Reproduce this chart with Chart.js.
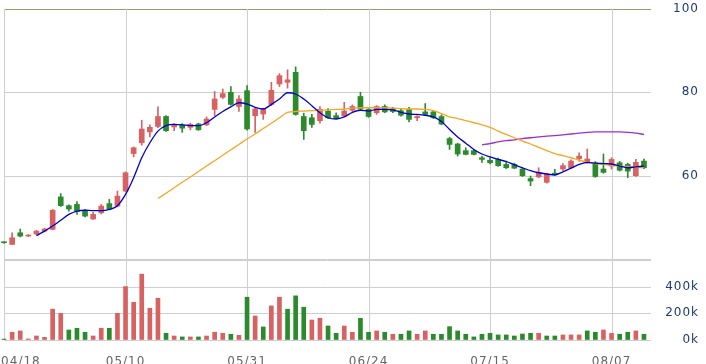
<!DOCTYPE html>
<html lang="zh-Hant">
<head>
<meta charset="UTF-8">
<title>K線圖</title>
<script src="https://cdn.jsdelivr.net/npm/chart.js@4"></script>
<style>
  body { margin: 0; background: #fff; }
  #wrap { position: relative; width: 706px; height: 364px; }
  #price { position: absolute; left: 0; top: 0; }
  #volume { position: absolute; left: 0; top: 260px; }
</style>
</head>
<body>
<div id="wrap">
  <canvas id="price" width="706" height="260"></canvas>
  <canvas id="volume" width="706" height="104"></canvas>
</div>
<script>
// trading days 2024/04/18 - 2024/08/13
const dates = ['04/18','04/19','04/22','04/23','04/24','04/25','04/26','04/29','04/30','05/02',
  '05/03','05/06','05/07','05/08','05/09','05/10','05/13','05/14','05/15','05/16',
  '05/17','05/20','05/21','05/22','05/23','05/24','05/27','05/28','05/29','05/30',
  '05/31','06/03','06/04','06/05','06/06','06/07','06/11','06/12','06/13','06/14',
  '06/17','06/18','06/19','06/20','06/21','06/24','06/25','06/26','06/27','06/28',
  '07/01','07/02','07/03','07/04','07/05','07/08','07/09','07/10','07/11','07/12',
  '07/15','07/16','07/17','07/18','07/19','07/22','07/23','07/26','07/29','07/30',
  '07/31','08/01','08/02','08/05','08/06','08/07','08/08','08/09','08/12','08/13'];

const openP = [44.0,43.5,46.3,45.5,46.0,46.7,47.1,54.9,52.8,53.1,
  51.6,49.6,51.1,53.3,52.7,56.3,65.3,67.9,70.5,71.8,
  74.2,71.7,72.2,71.6,72.4,72.2,75.9,78.8,80.0,76.6,
  80.4,74.4,74.8,77.1,82.0,82.4,84.8,74.2,73.9,73.2,
  75.5,74.4,74.4,75.7,79.0,75.9,75.1,76.6,76.1,75.6,
  75.9,73.9,75.3,75.3,74.2,68.9,67.6,66.0,66.0,64.3,
  63.7,63.9,62.7,62.7,61.6,59.3,59.7,58.4,60.6,61.6,
  61.9,64.1,63.1,63.1,61.6,62.3,63.1,62.7,60.0,63.5];
const closeP = [43.9,45.1,45.5,45.7,46.7,47.2,51.7,52.8,52.0,51.4,
  50.3,50.7,52.7,52.0,55.1,60.7,66.7,71.2,71.6,74.2,
  70.8,72.3,71.4,72.3,71.0,73.6,78.4,79.7,77.1,78.4,
  71.2,76.0,75.9,80.5,84.0,83.0,74.7,70.8,72.3,75.9,
  73.9,73.8,75.5,76.6,76.0,74.2,76.6,75.3,75.4,74.5,
  73.5,74.2,74.7,73.9,72.4,67.5,65.2,65.1,65.1,63.9,
  63.1,62.4,61.9,61.8,60.0,58.7,60.8,60.3,60.2,62.4,
  63.5,64.7,64.0,59.8,60.8,63.9,61.3,61.1,63.2,61.9];
const highP = [44.1,46.3,47.2,45.9,46.9,47.4,51.9,55.7,53.0,53.8,
  51.9,51.2,53.1,54.3,56.3,60.9,66.9,73.3,72.2,76.5,
  74.4,72.5,72.5,72.6,72.6,74.1,80.2,80.8,81.4,79.2,
  81.6,76.2,76.2,82.4,84.5,85.4,86.1,75.0,74.7,76.6,
  76.1,75.1,77.6,77.0,80.0,76.1,76.8,77.0,76.4,75.9,
  76.4,74.4,77.3,75.6,74.6,69.2,67.8,66.7,66.3,64.7,
  64.3,64.2,63.5,63.0,61.9,59.9,61.9,60.6,61.5,62.9,
  63.8,65.5,66.4,63.4,65.2,64.3,63.4,63.0,63.9,64.0];
const lowP = [43.8,43.5,45.3,45.4,45.8,46.5,47.0,52.6,51.5,50.7,
  50.1,49.5,50.8,51.8,52.5,56.1,64.5,67.3,69.3,71.5,
  70.6,70.8,70.4,71.0,70.9,72.0,74.4,78.5,76.9,75.4,
  70.9,70.4,73.5,76.8,81.4,81.0,74.5,68.7,71.6,72.6,
  73.7,73.7,74.2,75.4,75.8,74.0,74.7,75.1,75.1,74.3,
  72.9,73.2,74.5,73.7,72.2,66.3,64.7,65.0,65.0,63.2,
  62.8,62.2,61.7,61.7,59.8,57.6,59.5,58.2,60.0,61.2,
  61.7,63.5,62.9,59.6,60.6,61.6,61.1,59.5,59.8,61.7];

// volume in shares
const volume = [7000,58000,68000,8000,30000,20000,231000,200000,75000,88000,
  58000,30000,88000,88000,200000,401000,283000,494000,238000,313000,
  50000,30000,23000,23000,23000,30000,58000,50000,43000,35000,
  321000,180000,98000,256000,321000,231000,331000,246000,150000,163000,
  105000,50000,105000,58000,163000,58000,68000,58000,43000,43000,
  68000,43000,68000,43000,43000,100000,68000,43000,23000,43000,
  50000,38000,38000,30000,45000,50000,50000,30000,30000,38000,
  38000,38000,68000,58000,75000,50000,43000,58000,68000,43000];

// moving averages as drawn (5, 20, 60 day)
const ma5 = Array(4).fill(null).concat([45.6,46.7,47.9,49.3,50.7,51.5,51.7,51.6,51.6,51.9,
  52.8,55.5,59.5,64.3,67.9,70.7,72.0,72.3,72.2,72.0,
  72.0,72.7,74.1,75.4,76.5,77.5,77.2,76.4,76.0,77.1,
  78.4,79.9,79.6,78.4,76.8,75.1,73.9,73.6,74.1,75.2,
  75.7,75.5,75.9,75.9,75.8,75.2,74.8,74.7,74.5,74.1,
  73.0,71.1,69.3,67.8,66.3,65.2,64.5,63.9,63.4,62.6,
  61.9,61.2,60.7,60.4,60.2,60.9,61.8,62.7,63.2,63.0,
  62.9,62.8,62.3,61.9,62.1,62.3]);
const ma20 = Array(19).fill(null).concat([54.5,55.8,57.1,58.4,59.7,61.0,62.3,63.6,64.9,66.2,
  67.5,68.8,70.0,71.3,72.6,73.9,75.2,75.4,75.5,75.6,
  75.7,75.8,75.9,76.0,76.2,76.3,76.3,76.3,76.3,76.2,
  76.1,76.0,76.0,75.9,75.6,74.9,74.1,73.7,73.2,72.7,
  72.2,71.6,70.7,69.9,69.1,68.3,67.6,66.8,66.0,65.3,
  64.8,64.3,63.7,63.2,62.9,62.7,62.5,62.3,62.2,62.0,61.9]);
const ma60 = Array(59).fill(null).concat([67.4,67.7,68.1,68.4,68.6,68.9,69.1,69.3,69.5,69.6,
  69.8,70.0,70.2,70.4,70.5,70.5,70.5,70.5,70.4,70.2,69.9]);

const UP = '#d86262';
const DOWN = '#2b8a2b';
const GRID = '#cfcfcf';
const BROWN = '#a8936a';
const FONT = { family: 'DejaVu Sans', size: 12 };

const bodies = openP.map((o, i) => [o, closeP[i]]);
const wicks = lowP.map((l, i) => [l, highP[i]]);
const candleColors = openP.map((o, i) => closeP[i] >= o ? UP : DOWN);
const volColors = closeP.map((c, i) => i > 0 && c > closeP[i - 1] ? UP : DOWN);

// wider letter spacing for the axis text
const spacing = {
  id: 'spacing',
  beforeLayout(chart) { chart.ctx.letterSpacing = '1px'; },
  beforeDraw(chart) { chart.ctx.letterSpacing = '1px'; }
};

// grid lines drawn from the chart's own scales (every 15th day, every y tick)
const gridLines = {
  id: 'gridLines',
  afterDatasetsDraw(chart, args, opts) {
    const { ctx, chartArea: a, scales } = chart;
    const x0 = Math.round(scales.x.getPixelForValue(0));
    ctx.save();
    ctx.setLineDash([]);
    ctx.globalAlpha = 1;
    ctx.globalCompositeOperation = 'destination-over';
    ctx.lineWidth = 1;
    for (let i = 0; i < dates.length; i += 15) {
      const x = Math.round(scales.x.getPixelForValue(i)) + 0.5;
      ctx.strokeStyle = GRID;
      ctx.beginPath();
      ctx.moveTo(x, a.top);
      ctx.lineTo(x, a.bottom);
      ctx.stroke();
    }
    scales.y.ticks.forEach(t => {
      const y = Math.round(scales.y.getPixelForValue(t.value)) + 0.5;
      ctx.strokeStyle = (opts && opts.top === t.value) ? BROWN : GRID;
      ctx.beginPath();
      ctx.moveTo(x0, y);
      ctx.lineTo(a.right + 3, y);
      ctx.stroke();
    });
    ctx.restore();
  }
};

function lineSet(data, color) {
  return { type: 'line', data: data, borderColor: color, borderWidth: 1.3, pointRadius: 0,
    cubicInterpolationMode: 'monotone', fill: false, order: 0 };
}

new Chart(document.getElementById('price'), {
  type: 'bar',
  data: {
    labels: dates,
    datasets: [
      lineSet(ma5, '#0000cc'),
      lineSet(ma20, '#f5a623'),
      lineSet(ma60, '#9a2fd0'),
      { data: bodies, backgroundColor: candleColors, barThickness: 5, grouped: false, minBarLength: 1, order: 1 },
      { data: wicks, backgroundColor: candleColors, barThickness: 1, grouped: false, order: 2 }
    ]
  },
  options: {
    responsive: false,
    animation: false,
    layout: { padding: { left: 0, right: 7, top: 9, bottom: 1 } },
    plugins: { legend: { display: false }, tooltip: { enabled: false }, gridLines: { top: 100 } },
    scales: {
      x: {
        offset: true,
        grid: { display: false },
        border: { display: false },
        ticks: { display: false, autoSkip: false },
        afterFit(s) { s.paddingLeft = 0; s.paddingRight = 0; s.height = 0; }
      },
      y: {
        position: 'right',
        min: 40, max: 100,
        grid: { color: 'rgba(0,0,0,0)', tickLength: 3 },
        border: { display: false },
        ticks: { stepSize: 20, color: '#1c3b72', font: FONT, crossAlign: 'far', padding: 18,
          callback: v => v === 40 ? '' : v },
        afterFit(s) { s.width = 51; s.paddingTop = 0; s.paddingBottom = 0; }
      }
    }
  },
  plugins: [spacing, gridLines]
});

new Chart(document.getElementById('volume'), {
  type: 'bar',
  data: {
    labels: dates,
    datasets: [
      { data: volume, backgroundColor: volColors, barThickness: 4 }
    ]
  },
  options: {
    responsive: false,
    animation: false,
    layout: { padding: { left: 0, right: 7, top: 0, bottom: 0 } },
    plugins: { legend: { display: false }, tooltip: { enabled: false }, gridLines: {} },
    scales: {
      x: {
        offset: true,
        grid: { display: false },
        border: { display: false },
        ticks: { autoSkip: false, maxRotation: 0, color: '#666666', font: FONT, padding: 7,
          callback: (v, i) => i === 0 ? '       ' + dates[0] : (i % 15 === 0 ? dates[i] : '') },
        afterFit(s) { s.paddingLeft = 0; s.paddingRight = 0; s.height = 24; }
      },
      y: {
        position: 'right',
        min: 0, max: 600000,
        grid: { color: 'rgba(0,0,0,0)', tickLength: 3 },
        border: { display: false },
        ticks: { stepSize: 200000, color: '#1c3b72', font: FONT, crossAlign: 'far', padding: 10,
          callback: v => v === 600000 ? '' : (v / 1000) + 'k' },
        afterFit(s) { s.width = 51; s.paddingTop = 0; s.paddingBottom = 0; }
      }
    }
  },
  plugins: [spacing, gridLines]
});
</script>
</body>
</html>
